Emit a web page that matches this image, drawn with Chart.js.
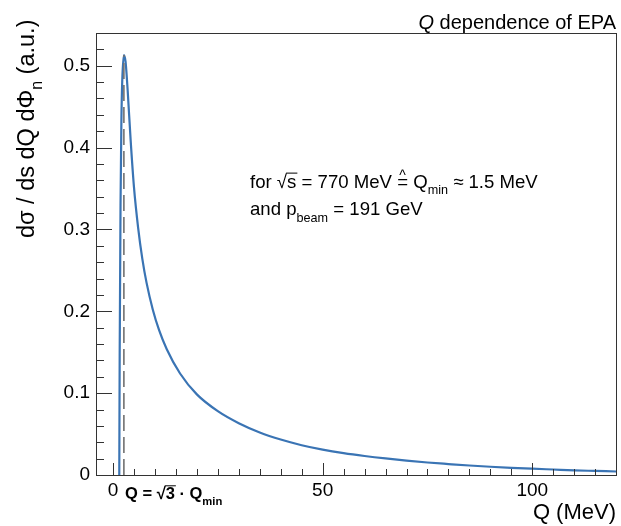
<!DOCTYPE html>
<html>
<head>
<meta charset="utf-8">
<script src="https://cdn.jsdelivr.net/npm/chart.js@4/dist/chart.umd.min.js"></script>
<style>
  html, body { margin: 0; padding: 0; background: #fff; }
  #wrap { width: 621px; height: 526px; }
</style>
</head>
<body>
<div id="wrap"><canvas id="c" width="621" height="526"></canvas></div>
<script>
// ---- data ----
const qValues = [1.5, 1.6, 1.8, 2.0, 2.2, 2.6, 3.0, 3.5, 4.2, 5.0, 6.0, 7.0, 8.0, 9.5, 11, 12.8, 16, 20, 25, 30, 35, 40, 45, 50, 55, 60, 65, 70, 75, 80, 85, 90, 95, 100, 105, 110, 115, 120];
const dsigma  = [0, 0.15, 0.33, 0.43, 0.48, 0.513, 0.505, 0.47, 0.41, 0.352, 0.302, 0.264, 0.235, 0.202, 0.177, 0.154, 0.124, 0.0985, 0.078, 0.0633, 0.052, 0.0433, 0.0364, 0.031, 0.0267, 0.0232, 0.0202, 0.0176, 0.0153, 0.0134, 0.0116, 0.0101, 0.0088, 0.0077, 0.0067, 0.0057, 0.005, 0.0043];
const qPeak = [2.6, 2.6];          // Q = sqrt(3) * Qmin
const qPeakY = [0, 0.513];
const xTickLabels = [0, 50, 100];
const yTickLabels = [0, 0.1, 0.2, 0.3, 0.4, 0.5];

const FONT = '"Liberation Sans", Arial, Helvetica, sans-serif';

function setFont(ctx, p, size) {
  const fs = p.sub ? size * 0.68 : size;
  ctx.font = (p.italic ? 'italic ' : '') + (p.bold ? 'bold ' : '') + fs + 'px ' + FONT;
  return fs;
}
function drawRich(ctx, parts, x, y, size) {
  let cx = x;
  for (const p of parts) {
    setFont(ctx, p, size);
    const dy = p.sub ? size * (p.subDrop || 0.3) : 0;
    ctx.fillText(p.t, cx, y + dy);
    const w = ctx.measureText(p.t).width;
    if (p.over) {
      ctx.save();
      ctx.lineWidth = 1;
      ctx.beginPath();
      ctx.moveTo(cx - 1, y - size * 0.8);
      ctx.lineTo(cx + w + 1, y - size * 0.8);
      ctx.stroke();
      ctx.restore();
    }
    if (p.hat) {
      ctx.save();
      ctx.font = (size * 0.75) + 'px ' + FONT;
      ctx.textAlign = 'center';
      ctx.fillText('^', cx + w / 2, y - size * 0.42);
      ctx.restore();
    }
    cx += w + (p.gap || 0);
  }
  return cx - x;
}
function richWidth(ctx, parts, size) {
  let w = 0;
  for (const p of parts) {
    setFont(ctx, p, size);
    w += ctx.measureText(p.t).width + (p.gap || 0);
  }
  return w;
}

const decor = {
  id: 'decor',
  afterDraw(chart) {
    const ctx = chart.ctx;
    const a = chart.chartArea;
    const xs = chart.scales.x, ys = chart.scales.y;
    ctx.save();
    // frame
    ctx.strokeStyle = '#333';
    ctx.lineWidth = 1;
    ctx.strokeRect(a.left + 0.5, a.top + 0.5, a.right - a.left - 1, a.bottom - a.top);
    // x ticks (inward)
    ctx.beginPath();
    for (let v = 0; v <= 120; v += 5) {
      const px = Math.round(xs.getPixelForValue(v)) + 0.5;
      const len = (v % 50 === 0) ? 12 : 6;
      ctx.moveTo(px, a.bottom);
      ctx.lineTo(px, a.bottom - len);
    }
    // y ticks (inward)
    for (let i = 0; i <= 26; i++) {
      const v = i * 0.02;
      const py = Math.round(ys.getPixelForValue(v)) + 0.5;
      const len = (i % 5 === 0) ? 16 : 8;
      ctx.moveTo(a.left, py);
      ctx.lineTo(a.left + len, py);
    }
    ctx.stroke();

    ctx.fillStyle = '#000';
    ctx.strokeStyle = '#000';
    ctx.textBaseline = 'alphabetic';
    ctx.textAlign = 'left';

    // title
    const titleParts = [{ t: 'Q', italic: true }, { t: ' dependence of EPA' }];
    const tw = richWidth(ctx, titleParts, 20);
    drawRich(ctx, titleParts, 616 - tw, 29, 20);

    // x axis title
    ctx.font = '22px ' + FONT;
    ctx.textAlign = 'right';
    ctx.fillText('Q (MeV)', 616, 519);
    ctx.textAlign = 'left';

    // y axis title (rotated)
    const yParts = [{ t: 'dσ / ds dQ dΦ' }, { t: 'n', sub: true, subDrop: 0.32 }, { t: ' (a.u.)' }];
    ctx.save();
    ctx.translate(34, 238);
    ctx.rotate(-Math.PI / 2);
    drawRich(ctx, yParts, 0, 0, 23.5);
    ctx.restore();

    // annotation text
    const l1 = [
      { t: 'for ' }, { t: '√' }, { t: 's', over: true }, { t: ' = 770 MeV ' }, { t: '=', hat: true }, { t: ' Q' },
      { t: 'min', sub: true, subDrop: 0.32 }, { t: ' ≈ 1.5 MeV' }
    ];
    drawRich(ctx, l1, 250, 188, 18.6);
    const l2 = [{ t: 'and p' }, { t: 'beam', sub: true, subDrop: 0.4 }, { t: ' = 191 GeV' }];
    drawRich(ctx, l2, 250, 215, 18.6);

    // Q = sqrt(3) * Qmin label
    const l3 = [
      { t: 'Q = ', bold: true }, { t: '√', bold: true }, { t: '3', bold: true, over: true },
      { t: ' · Q', bold: true }, { t: 'min', bold: true, sub: true, subDrop: 0.35 }
    ];
    drawRich(ctx, l3, 125, 499, 16.5);
    ctx.restore();
  }
};

const chart = new Chart(document.getElementById('c'), {
  type: 'line',
  data: {
    datasets: [
      {
        data: qPeak.map((q, i) => ({ x: q, y: qPeakY[i] })),
        borderColor: '#707070',
        borderWidth: 1.6,
        borderDash: [16, 6],
        pointRadius: 0,
        fill: false,
        tension: 0
      },
      {
        data: qValues.map((q, i) => ({ x: q, y: dsigma[i] })),
        borderColor: '#3a74b4',
        borderWidth: 2.2,
        pointRadius: 0,
        fill: false,
        cubicInterpolationMode: 'monotone'
      }
    ]
  },
  options: {
    responsive: false,
    animation: false,
    devicePixelRatio: 1,
    layout: { padding: { left: 0, right: 4, top: 33, bottom: 0 } },
    plugins: { legend: { display: false }, tooltip: { enabled: false }, title: { display: false } },
    scales: {
      x: {
        type: 'linear',
        min: -4.05,
        max: 120.2,
        grid: { display: false, drawTicks: false },
        border: { display: false },
        afterBuildTicks: (s) => { s.ticks = xTickLabels.map(v => ({ value: v })); },
        afterFit: (s) => { s.height = 51; },
        ticks: {
          color: '#000',
          font: { family: FONT, size: 19 },
          padding: 4,
          maxRotation: 0,
          autoSkip: false,
          callback: (v) => String(v)
        }
      },
      y: {
        type: 'linear',
        min: 0,
        max: 0.54,
        grid: { display: false, drawTicks: false },
        border: { display: false },
        afterBuildTicks: (s) => { s.ticks = yTickLabels.map(v => ({ value: v })); },
        afterFit: (s) => { s.width = 96; },
        ticks: {
          color: '#000',
          font: { family: FONT, size: 19 },
          padding: 6,
          autoSkip: false,
          callback: (v) => (v === 0 ? '0' : Number(v).toFixed(1))
        }
      }
    }
  },
  plugins: [decor]
});
</script>
</body>
</html>
